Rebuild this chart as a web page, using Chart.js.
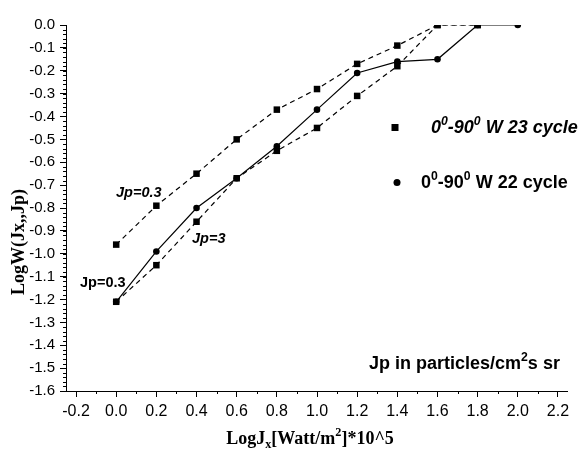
<!DOCTYPE html>
<html>
<head>
<meta charset="utf-8">
<script src="https://cdn.jsdelivr.net/npm/chart.js@4"></script>
<style>
  html, body { margin: 0; padding: 0; background: #fff; }
  #wrap { width: 586px; height: 450px; }
</style>
</head>
<body>
<div id="wrap"><canvas id="chart" width="586" height="450"></canvas></div>
<script>
const xValues = [0.0, 0.2, 0.4, 0.6, 0.8, 1.0, 1.2, 1.4, 1.6, 1.8, 2.0];
// 23 cycle, Jp=0.3 (upper dashed) and Jp=3 (lower dashed)
const cycle23Jp03 = [-0.96, -0.79, -0.65, -0.50, -0.37, -0.28, -0.17, -0.09, 0.0, 0.0];
const cycle23Jp3 = [-1.21, -1.05, -0.86, -0.67, -0.55, -0.45, -0.31, -0.18, 0.0, 0.0];
// 22 cycle (solid)
const cycle22 = [-1.21, -0.99, -0.80, -0.67, -0.53, -0.37, -0.21, -0.16, -0.15, 0.0, 0.0];

const SANS = '"Liberation Sans", Arial, sans-serif';
const SERIF = '"Liberation Serif", "Times New Roman", serif';

const toPoints = ys => ys.map((y, i) => ({ x: xValues[i], y: y }));

function fontStr(f, size) {
  return (f.italic ? 'italic ' : '') + (f.bold ? 'bold ' : '') + size + 'px ' + f.family;
}

// parts: [[text, 'sup'|'sub'|undefined], ...]
function richText(ctx, parts, x, y, f, align) {
  const small = f.size * 0.68;
  let total = 0;
  parts.forEach(p => {
    ctx.font = fontStr(f, p[1] ? small : f.size);
    total += ctx.measureText(p[0]).width;
  });
  let cx = align === 'center' ? x - total / 2 : x;
  ctx.textAlign = 'left';
  ctx.textBaseline = 'alphabetic';
  ctx.fillStyle = '#000';
  parts.forEach(p => {
    const size = p[1] ? small : f.size;
    ctx.font = fontStr(f, size);
    let dy = 0;
    if (p[1] === 'sup') dy = -f.size * 0.42;
    if (p[1] === 'sub') dy = f.size * 0.22;
    ctx.fillText(p[0], cx, y + dy);
    cx += ctx.measureText(p[0]).width;
  });
}

const extras = {
  id: 'extras',
  afterDraw(chart) {
    const ctx = chart.ctx;
    const xs = chart.scales.x, ys = chart.scales.y;
    ctx.save();
    // minor ticks
    ctx.strokeStyle = '#000';
    ctx.lineWidth = 1;
    ctx.beginPath();
    for (let v = -1.6; v <= 0.0001; v += 0.02) {
      const py = Math.round(ys.getPixelForValue(v)) + 0.5;
      ctx.moveTo(xs.left - 3, py);
      ctx.lineTo(xs.left, py);
    }
    for (let v = -0.1; v <= 2.25; v += 0.2) {
      const px = Math.round(xs.getPixelForValue(v)) + 0.5;
      ctx.moveTo(px, ys.bottom);
      ctx.lineTo(px, ys.bottom + 3);
    }
    ctx.stroke();

    // legend
    ctx.fillStyle = '#000';
    ctx.fillRect(391.5, 124, 7, 7);
    ctx.beginPath();
    ctx.arc(397, 182.5, 3.5, 0, Math.PI * 2);
    ctx.fill();
    const bi = { bold: true, italic: true, family: SANS, size: 18 };
    const b = { bold: true, italic: false, family: SANS, size: 18 };
    richText(ctx, [['0'], ['0', 'sup'], ['-90'], ['0', 'sup'], [' W 23 cycle']], 431, 133, bi, 'left');
    richText(ctx, [['0'], ['0', 'sup'], ['-90'], ['0', 'sup'], [' W 22 cycle']], 421, 188, b, 'left');

    // annotations
    richText(ctx, [['Jp=0.3']], 116, 197, { bold: true, italic: true, family: SANS, size: 14.5 }, 'left');
    richText(ctx, [['Jp=3']], 192, 243, { bold: true, italic: true, family: SANS, size: 14.5 }, 'left');
    richText(ctx, [['Jp=0.3']], 80, 287, { bold: true, italic: false, family: SANS, size: 14.5 }, 'left');
    richText(ctx, [['Jp in particles/cm'], ['2', 'sup'], ['s sr']], 369, 369, b, 'left');

    // axis titles
    const serif = { bold: true, italic: false, family: SERIF, size: 18 };
    richText(ctx, [['LogJ'], ['x', 'sub'], ['[Watt/m'], ['2', 'sup'], [']*10^5']], 310, 444, serif, 'center');
    ctx.translate(24, 242);
    ctx.rotate(-Math.PI / 2);
    richText(ctx, [['LogW(Jx,,Jp)']], 0, 0, serif, 'center');
    ctx.restore();
  }
};

const dashedStyle = {
  showLine: true,
  borderColor: '#000',
  backgroundColor: '#000',
  borderWidth: 1.2,
  borderDash: [5, 4],
  pointStyle: 'rect',
  pointRadius: 4.6,
  pointBorderWidth: 0,
  tension: 0
};

new Chart(document.getElementById('chart').getContext('2d'), {
  type: 'scatter',
  data: {
    datasets: [
      Object.assign({ label: '23 cycle Jp=0.3', data: toPoints(cycle23Jp03) }, dashedStyle),
      Object.assign({ label: '23 cycle Jp=3', data: toPoints(cycle23Jp3) }, dashedStyle),
      {
        label: '22 cycle',
        data: toPoints(cycle22),
        showLine: true,
        borderColor: '#000',
        backgroundColor: '#000',
        borderWidth: 1.2,
        pointStyle: 'circle',
        pointRadius: 3.3,
        pointBorderWidth: 0,
        tension: 0
      }
    ]
  },
  options: {
    responsive: false,
    animation: false,
    layout: { padding: { left: 0, right: 19, top: 25, bottom: 0 } },
    plugins: { legend: { display: false }, tooltip: { enabled: false } },
    scales: {
      x: {
        type: 'linear',
        min: -0.25,
        max: 2.245,
        afterFit: s => { s.height = 59; },
        border: { display: true, color: '#000', width: 1 },
        grid: { drawOnChartArea: false, drawTicks: true, tickLength: 6, color: '#000' },
        ticks: {
          stepSize: 0.2,
          includeBounds: false,
          color: '#000',
          padding: 5,
          font: { family: SANS, size: 16 },
          callback: v => Number(v).toFixed(1)
        }
      },
      y: {
        min: -1.6,
        max: 0.0,
        afterFit: s => { s.width = 66; },
        border: { display: true, color: '#000', width: 1 },
        grid: { drawOnChartArea: false, drawTicks: true, tickLength: 6, color: '#000' },
        ticks: {
          stepSize: 0.1,
          color: '#000',
          padding: 5,
          font: { family: SANS, size: 15 },
          callback: v => Number(v).toFixed(1)
        }
      }
    }
  },
  plugins: [extras]
});
</script>
</body>
</html>
